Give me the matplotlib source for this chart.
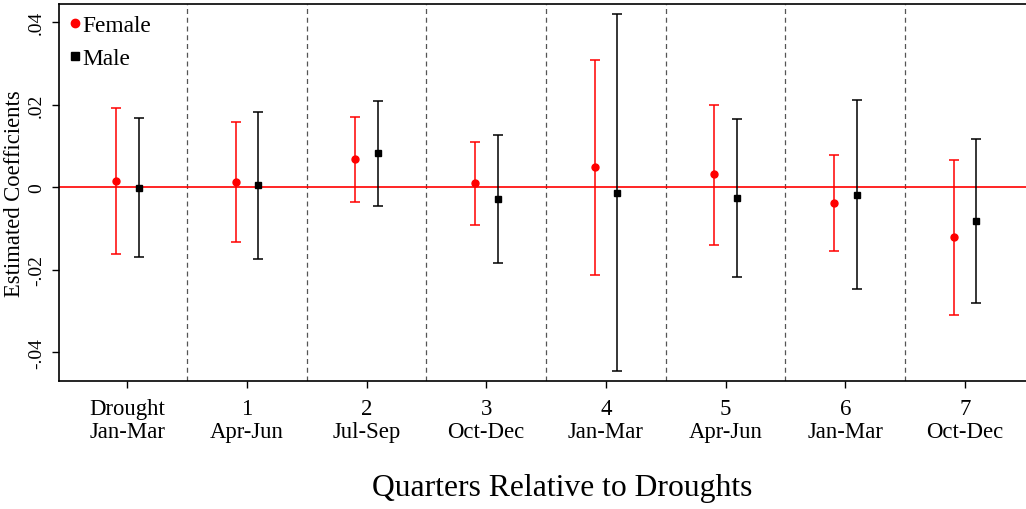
import numpy as np
import matplotlib
matplotlib.use("Agg")
import matplotlib.pyplot as plt
from matplotlib.lines import Line2D

plt.rcParams['font.family'] = ['Liberation Serif', 'DejaVu Serif']

quarters = ["Drought\nJan-Mar", "1\nApr-Jun", "2\nJul-Sep", "3\nOct-Dec",
            "4\nJan-Mar", "5\nApr-Jun", "6\nJan-Mar", "7\nOct-Dec"]

female_coef = [0.0015, 0.0012, 0.0068, 0.0010, 0.0048, 0.0031, -0.0038, -0.0120]
female_lo = [-0.0162, -0.0133, -0.0036, -0.0091, -0.0213, -0.0139, -0.0154, -0.0309]
female_hi = [0.0193, 0.0158, 0.0171, 0.0110, 0.0309, 0.0199, 0.0079, 0.0067]

male_coef = [-0.0002, 0.0006, 0.0082, -0.0028, -0.0013, -0.0026, -0.0019, -0.0082]
male_lo = [-0.0170, -0.0173, -0.0045, -0.0184, -0.0445, -0.0219, -0.0248, -0.0280]
male_hi = [0.0167, 0.0183, 0.0209, 0.0127, 0.0419, 0.0166, 0.0212, 0.0118]

x = np.arange(len(quarters))
offset = 0.095

fig = plt.figure(figsize=(10.26, 5.10), dpi=100)
# the plot box runs past the right edge of the picture, like the original
ax = fig.add_axes([0.0575, 0.251, 0.9425, 0.739])

# separators between quarters
for xv in x[:-1] + 0.5:
    ax.axvline(xv, color='#555555', linestyle=(0, (4, 3)), linewidth=0.9, zorder=1)

ax.axhline(0, color='red', linewidth=1.2, zorder=2)

fc = np.array(female_coef)
ax.errorbar(x - offset, fc,
            yerr=[fc - np.array(female_lo), np.array(female_hi) - fc],
            fmt='o', color='red', ecolor='red', markersize=5,
            elinewidth=1.1, capsize=3.5, capthick=1.1, zorder=3)

mc = np.array(male_coef)
ax.errorbar(x + offset, mc,
            yerr=[mc - np.array(male_lo), np.array(male_hi) - mc],
            fmt='s', color='black', ecolor='black', markersize=5,
            elinewidth=1.1, capsize=3.5, capthick=1.1, zorder=3)

ax.set_xlim(-0.57, 7.51)
ax.set_ylim(-0.0470, 0.0444)
ax.set_xticks(x)
ax.set_xticklabels(quarters, fontsize=16.4, linespacing=1.12)
ax.set_yticks([-0.04, -0.02, 0, 0.02, 0.04])
ax.set_yticklabels(["-.04", "-.02", "0", ".02", ".04"], rotation=90,
                   va='center', fontsize=14)
ax.tick_params(axis='both', direction='out', length=5, width=1)
ax.tick_params(axis='x', pad=7)
ax.tick_params(axis='y', pad=5)
ax.set_ylabel("Estimated Coefficients", fontsize=16.3, labelpad=2)
ax.set_xlabel("Quarters Relative to Droughts", fontsize=22.8)
ax.xaxis.set_label_coords(0.52, -0.245)

ax.spines['right'].set_visible(False)
for s in ax.spines.values():
    s.set_linewidth(1.2)

handles = [
    Line2D([], [], marker='o', color='red', linestyle='none', markersize=6),
    Line2D([], [], marker='s', color='black', linestyle='none', markersize=5.5),
]
ax.legend(handles, ["Female", "Male"], loc='upper left', frameon=False,
          fontsize=16.8, handletextpad=0.05, handlelength=0.5,
          labelspacing=0.5, borderpad=0.25, borderaxespad=0.2)

fig.savefig("out.png", dpi=100)
